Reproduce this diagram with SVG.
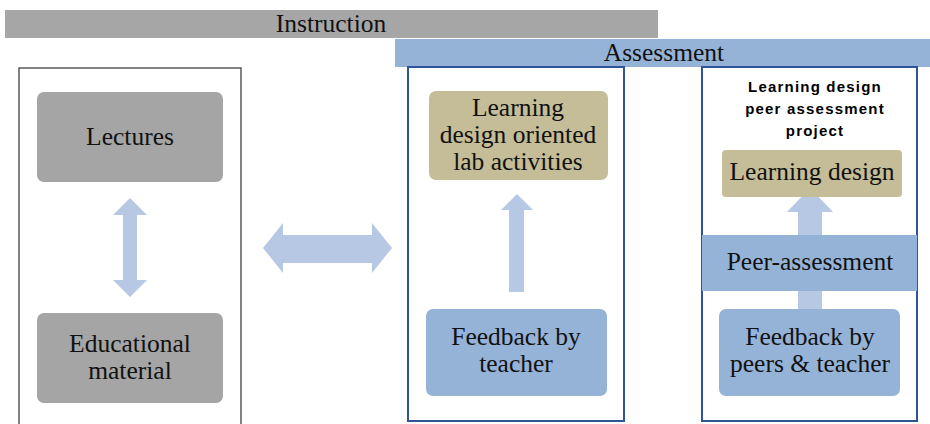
<svg xmlns="http://www.w3.org/2000/svg" width="930" height="424" viewBox="0 0 930 424">
<style>
.t{font-family:'Liberation Serif','Times New Roman',serif;font-size:25.5px;fill:#111;text-anchor:middle}
.b{font-family:'Liberation Sans',Arial,sans-serif;font-size:15px;font-weight:bold;fill:#000;text-anchor:middle;letter-spacing:1.2px}
.gray{fill:#a5a5a5}
.blue{fill:#95b3d7}
.tan{fill:#c4bd97}
.arr{fill:#b6c8e4}
.pan{fill:#fff;stroke:#2e5597;stroke-width:2}
</style>
<rect width="930" height="424" fill="#fff"/>
<g id="instruction-bar">
<rect x="5" y="10" width="653" height="28" fill="#a6a6a6"/>
<text class="t" x="331" y="32">Instruction</text>
</g>
<g id="assessment-bar">
<rect x="395" y="39" width="535" height="28" class="blue"/>
<text class="t" x="664" y="61">Assessment</text>
</g>
<g id="instruction-panel">
<rect x="19" y="68" width="222" height="360" fill="#fff" stroke="#595959" stroke-width="1.5"/>
</g>
<g id="assessment-panel-1">
<rect x="408" y="67" width="216" height="354" class="pan"/>
</g>
<g id="assessment-panel-2">
<rect x="702" y="67" width="215" height="354" class="pan"/>
<text class="b" x="815" y="92">Learning design</text>
<text class="b" x="815" y="114">peer assessment</text>
<text class="b" x="815" y="136">project</text>
</g>
<g id="connectors">
<polygon class="arr" points="130,198 147,215 137,215 137,280 147,280 130,297 113,280 123,280 123,215 113,215"/>
<polygon class="arr" points="263,248 283,223 283,235 372,235 372,223 392,248 372,273 372,263 283,263 283,273"/>
<polygon class="arr" points="517,194 533,210 524,210 524,292 509,292 509,210 501,210"/>
<polygon class="arr" points="810,188 833,212 822,212 822,312 798,312 798,212 787,212"/>
</g>
<g id="lectures">
<rect x="37" y="92" width="186" height="90" rx="7" class="gray"/>
<text class="t" x="130" y="145">Lectures</text>
</g>
<g id="educational-material">
<rect x="37" y="313" width="186" height="90" rx="7" class="gray"/>
<text class="t" x="130" y="352">Educational</text>
<text class="t" x="130" y="379">material</text>
</g>
<g id="lab-activities">
<rect x="429" y="91" width="179" height="89" rx="7" class="tan"/>
<text class="t" x="518" y="116">Learning</text>
<text class="t" x="518" y="143">design oriented</text>
<text class="t" x="518" y="170">lab activities</text>
</g>
<g id="feedback-teacher">
<rect x="426" y="309" width="181" height="87" rx="7" class="blue"/>
<text class="t" x="516" y="345">Feedback by</text>
<text class="t" x="516" y="372">teacher</text>
</g>
<g id="learning-design">
<rect x="722" y="150" width="180" height="47" rx="4" class="tan"/>
<text class="t" x="812" y="180">Learning design</text>
</g>
<g id="peer-assessment">
<rect x="702" y="235" width="215" height="56" class="blue"/>
<text class="t" x="810" y="270">Peer-assessment</text>
</g>
<g id="feedback-peers">
<rect x="719" y="309" width="181" height="87" rx="7" class="blue"/>
<text class="t" x="810" y="345">Feedback by</text>
<text class="t" x="810" y="372">peers &amp; teacher</text>
</g>
</svg>
